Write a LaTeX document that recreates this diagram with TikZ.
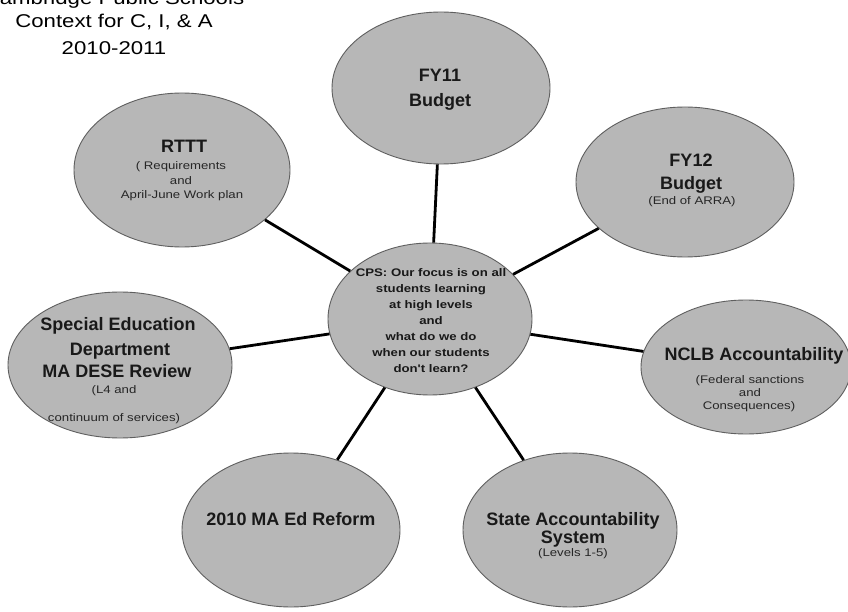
\documentclass[tikz,border=0pt]{standalone}
\usepackage{fontspec}
\setmainfont{Liberation Sans}
\newfontfamily\widefont[FakeStretch=1.2]{Liberation Sans}
\usetikzlibrary{shapes.geometric}
\definecolor{bub}{RGB}{183,183,183}
\definecolor{rim}{RGB}{95,95,95}
\begin{document}
\begin{tikzpicture}[x=1pt,y=-1pt,
  bubble/.style={ellipse, draw=rim, line width=0.9pt, fill=bub, inner sep=0pt},
  link/.style={line width=2.8pt, draw=black},
  big/.style={anchor=base, inner sep=0pt, text=black!90, font=\fontsize{18}{21}\selectfont\bfseries},
  sm/.style={anchor=base, inner sep=0pt, text=black!85, font=\widefont\fontsize{11}{14}\selectfont},
  ttl/.style={anchor=base, inner sep=0pt, text=black, font=\widefont\fontsize{18.5}{27}\selectfont}]
\useasboundingbox (0,0) rectangle (848,612);
\fill[white] (0,0) rectangle (848,612);

% title
\node[ttl] (title0) at (114,5) {Cambridge Public Schools};
\node[ttl] (title1) at (114,28) {Context for C, I, \& A};
\node[ttl] (title2) at (114,55) {2010-2011};

% ellipses
\node[bubble, minimum width=218, minimum height=152] (fy11) at (441,88) {};
\node[bubble, minimum width=218, minimum height=150] (fy12) at (685,182) {};
\node[bubble, minimum width=216, minimum height=154] (rttt) at (182,170) {};
\node[bubble, minimum width=204, minimum height=152] (cps) at (430,319) {};
\node[bubble, minimum width=224, minimum height=146] (sped) at (120,365) {};
\node[bubble, minimum width=210, minimum height=134] (nclb) at (746,367) {};
\node[bubble, minimum width=218, minimum height=154] (reform) at (291,530) {};
\node[bubble, minimum width=214, minimum height=154] (state) at (570,530) {};

% connectors
\draw[link] (cps) -- (fy11);
\draw[link] (cps) -- (fy12);
\draw[link] (cps) -- (rttt);
\draw[link] (cps) -- (sped);
\draw[link] (cps) -- (nclb);
\draw[link] (cps) -- (reform);
\draw[link] (cps) -- (state);

% FY11
\node[big] (fy11a) at (440,82) {FY11};
\node[big] (fy11b) at (440,107) {Budget};
% FY12
\node[big] (fy12a) at (691,167) {FY12};
\node[big] (fy12b) at (691,190) {Budget};
\node[sm] (fy12c) at (692,205) {(End of ARRA)};
% RTTT
\node[big] (rttta) at (184,153) {RTTT};
\node[sm] (ritb) at (181,170) {( Requirements};
\node[sm] (rttc) at (181,185) {and};
\node[sm] (rttd) at (182,199) {April-June Work plan};
% CPS
\node[align=center, inner sep=0pt, text=black!90, font=\widefont\bfseries\fontsize{11}{16}\selectfont] (tcps) at (431,321)
  {CPS: Our focus is on all\\students learning\\at high levels\\and\\what do we do\\when our students\\don't learn?};
% Special Education
\node[big] (speda) at (118,330) {Special Education};
\node[big] (spedb) at (120,355) {Department};
\node[big] (spedc) at (117,377) {MA DESE Review};
\node[sm] (spedd) at (114,393) {(L4 and};
\node[sm] (speds) at (114,421) {continuum of services)};
% NCLB
\node[big] (nclba) at (754,360) {NCLB Accountability};
\node[sm] (nclbb) at (750,383) {(Federal sanctions};
\node[sm] (nclbc) at (750,396) {and};
\node[sm] (nclbd) at (749,409) {Consequences)};
% Reform
\node[big] (reforma) at (291,525) {2010 MA Ed Reform};
% State
\node[big] (statea) at (573,525) {State Accountability};
\node[big] (stateb) at (573,543) {System};
\node[sm] (statec) at (573,556) {(Levels 1-5)};
\end{tikzpicture}
\end{document}
